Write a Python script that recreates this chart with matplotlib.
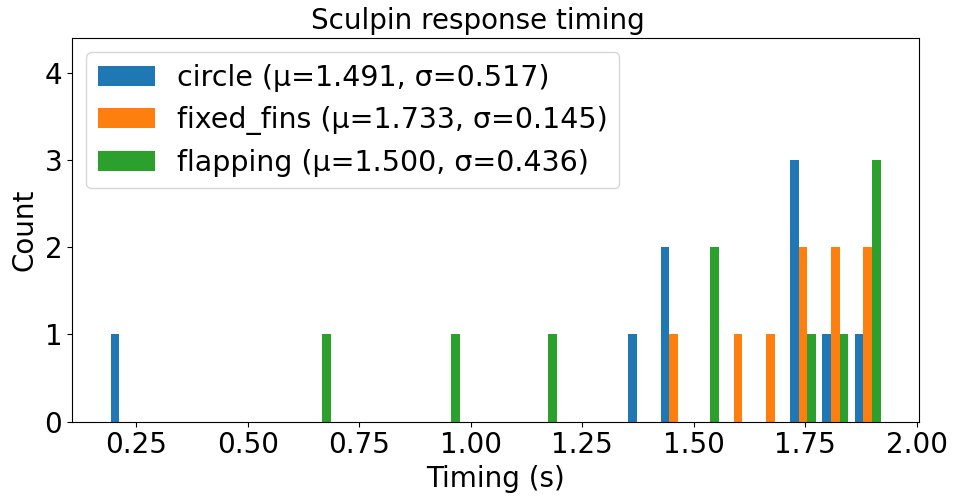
import matplotlib

matplotlib.use("Agg")
import matplotlib.pyplot as plt
import numpy as np

# response timings (s) per stimulus condition
conditions = ["circle", "fixed_fins", "flapping"]
circle = [0.185, 1.38, 1.44, 1.46, 1.72, 1.74, 1.76, 1.83, 1.90]
fixed_fins = [1.45, 1.60, 1.67, 1.73, 1.76, 1.80, 1.82, 1.87, 1.90]
flapping = [0.64, 0.93, 1.14, 1.50, 1.52, 1.72, 1.82, 1.89, 1.92, 1.926]
means = [1.491, 1.733, 1.500]
stds = [0.517, 0.145, 0.436]
n_bins = 24

labels = [
    f"{name} (\u03bc={m:.3f}, \u03c3={s:.3f})"
    for name, m, s in zip(conditions, means, stds)
]

fig = plt.figure(figsize=(9.55, 4.97), dpi=100)
ax = fig.add_axes([72 / 955, 1 - 421.7 / 497, (919 - 72) / 955, (421.7 - 38) / 497])

ax.hist(
    [np.array(circle), np.array(fixed_fins), np.array(flapping)],
    bins=n_bins,
    label=labels,
    color=["#1f77b4", "#ff7f0e", "#2ca02c"],
)
ax.set_ylim(0, 4.4)
ax.set_yticks([0, 1, 2, 3, 4])
ax.set_xlabel("Timing (s)", fontsize=20)
ax.set_ylabel("Count", fontsize=20)
fig.suptitle("Sculpin response timing", fontsize=20, y=0.985)
ax.tick_params(labelsize=20)
ax.legend(loc="upper left", fontsize=20.5)

fig.savefig("out.png", dpi=100)
